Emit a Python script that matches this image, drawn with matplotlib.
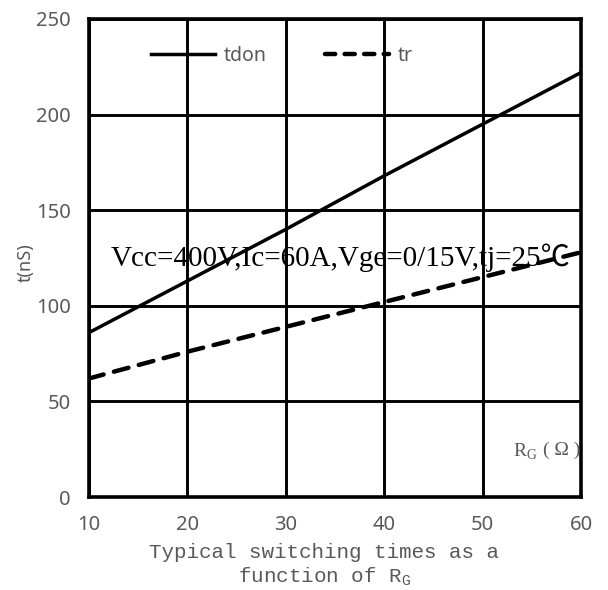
import matplotlib
matplotlib.use('Agg')
import matplotlib.pyplot as plt
from matplotlib.lines import Line2D

# gate resistance (ohm) and switching times (ns)
rg = [10, 20, 30, 40, 50, 60]
tdon = [86, 113, 140, 168, 195, 222]
tr = [62, 76, 89, 102, 115, 128]

xticks = [10, 20, 30, 40, 50, 60]
yticks = [0, 50, 100, 150, 200, 250]

grey = '#595959'

fig = plt.figure(figsize=(6.08, 5.9), dpi=100)
ax = fig.add_axes([0.1464, 0.1576, 0.8092, 0.8102])

ax.plot(rg, tdon, color='black', lw=2.5, solid_capstyle='butt', zorder=3)
ax.plot(rg, tr, color='black', lw=3.2, dashes=(3.4, 2.4),
        dash_capstyle='round', zorder=3)

ax.set_xlim(10, 60)
ax.set_ylim(0, 250)
ax.set_xticks(xticks)
ax.set_yticks(yticks)
ax.grid(True, color='black', lw=2.1)
ax.set_axisbelow(True)
for s in ax.spines.values():
    s.set_linewidth(2.6)
    s.set_color('black')
ax.tick_params(length=0, labelsize=14.5, labelcolor=grey)
ax.tick_params(axis='x', pad=13)
ax.tick_params(axis='y', pad=13)
for lab in ax.get_xticklabels() + ax.get_yticklabels():
    lab.set_fontfamily('Noto Sans')

# legend across the top
handles = [Line2D([], [], color='black', lw=2.5),
           Line2D([], [], color='black', lw=3.2, dashes=(2.3, 2.1),
                  dash_capstyle='round')]
leg = ax.legend(handles, ['tdon', 'tr'], ncol=2, frameon=False,
                loc='center left', bbox_to_anchor=(0.126, 0.923),
                borderpad=0, borderaxespad=0, handlelength=3.3,
                handletextpad=0.45, columnspacing=3.0,
                prop={'family': 'Noto Sans', 'size': 14})
for t in leg.get_texts():
    t.set_color(grey)

# test conditions
ax.text(35.6, 125, 'Vcc=400V,Ic=60A,Vge=0/15V,tj=25℃', ha='center',
        va='center', fontsize=21, color='black',
        family=['Liberation Serif', 'Noto Sans CJK SC'], zorder=4)

# axis unit inside the plot
ax.text(0.912, 0.094, r'R$_\mathregular{G}$', transform=ax.transAxes,
        ha='right', va='center', fontsize=14, color=grey,
        family='Liberation Serif')
ax.text(0.998, 0.098, '( Ω )', transform=ax.transAxes,
        ha='right', va='center', fontsize=14, color=grey,
        family='Liberation Serif')

ax.set_ylabel('t(nS)', fontsize=13, color=grey, family='Noto Sans')
ax.yaxis.set_label_coords(-0.11, 0.49)

fig.text(324 / 608, 1 - 553 / 590, 'Typical switching times as a',
         ha='center', va='center', fontsize=15, color=grey,
         family='Liberation Mono')
fig.text(324 / 608, 1 - 577 / 590, r'function of R$_\mathregular{G}$',
         ha='center', va='center', fontsize=15, color=grey,
         family='Liberation Mono')

fig.savefig('out.png', dpi=100, facecolor='white')
